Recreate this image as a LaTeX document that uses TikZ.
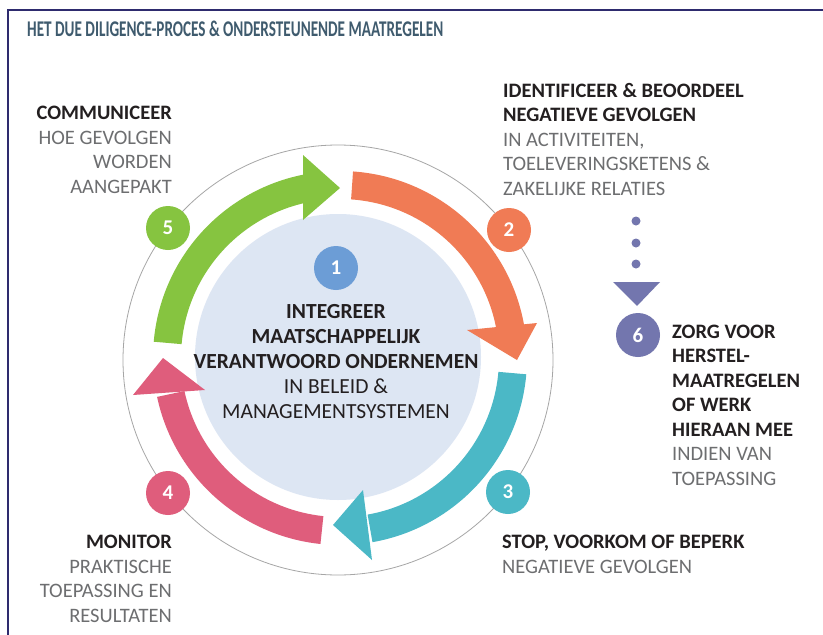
\documentclass[tikz,border=0pt]{standalone}
\usepackage{fontspec}
\usepackage{graphicx}
\setmainfont{Carlito}
\usetikzlibrary{calc}
\definecolor{navy}{HTML}{2E2B6E}
\definecolor{titlec}{HTML}{3F5B6E}
\definecolor{cgreen}{HTML}{86C440}
\definecolor{corange}{HTML}{F07B55}
\definecolor{cteal}{HTML}{4BB8C6}
\definecolor{cpink}{HTML}{DF5D7C}
\definecolor{cblue}{HTML}{6C9DD6}
\definecolor{cpurp}{HTML}{7376AE}
\definecolor{cdisc}{HTML}{DDE6F3}
\definecolor{darktext}{HTML}{231F20}
\definecolor{lighttext}{HTML}{6D6E70}
\newcommand{\hd}[1]{{\bfseries\color{darktext}#1}}
\begin{document}
\begin{tikzpicture}[x=1pt,y=1pt,
  badge/.style={circle,minimum size=44pt,inner sep=0pt,text=white,font=\fontsize{21}{21}\selectfont\bfseries},
  sidetext/.style={inner sep=0pt,text=lighttext,font=\fontsize{20.5}{24.5}\selectfont}]
\useasboundingbox (0,-635) rectangle (823,0);
\fill[white] (0,-635) rectangle (823,0);
\draw[navy,line width=2.5pt] (8,-635) -- (8,-10) -- (823,-10);

\node[anchor=base west,inner sep=0pt,text=titlec,font=\fontsize{22}{22}\selectfont\bfseries] (title) at (27,-36)
  {\resizebox{416pt}{15.5pt}{HET DUE DILIGENCE-PROCES \& ONDERSTEUNENDE MAATREGELEN}};

\coordinate (C) at (340,-358);
% outer thin circle and inner disc
\draw[black!35,line width=0.8pt] (338,-360) circle[radius=215pt];
\fill[cdisc] (338,-357) circle[radius=143pt];

% green arrow
\fill[cgreen] ($(C)+(175:187)$) arc[start angle=175,end angle=101,radius=187pt]
  -- ($(C)+(101:159)$) arc[start angle=101,end angle=175,radius=159pt] -- cycle;
\fill[cgreen] (303,-155) -- (340,-188) -- (303,-220) -- cycle;
% orange arrow
\fill[corange] ($(C)+(86:187)$) arc[start angle=86,end angle=10,radius=187pt]
  -- ($(C)+(10:159)$) arc[start angle=10,end angle=86,radius=159pt] -- cycle;
\fill[corange] (537,-323) -- (517,-360) -- (467,-330) -- cycle;
% teal arrow
\fill[cteal] ($(C)+(-5:187)$) arc[start angle=-5,end angle=-80,radius=187pt]
  -- ($(C)+(-80:159)$) arc[start angle=-80,end angle=-5,radius=159pt] -- cycle;
\fill[cteal] (372,-560) -- (333,-525) -- (363,-490) -- cycle;
% pink arrow
\fill[cpink] ($(C)+(-96:187)$) arc[start angle=-96,end angle=-168,radius=187pt]
  -- ($(C)+(-168:159)$) arc[start angle=-168,end angle=-96,radius=159pt] -- cycle;
\fill[cpink] (133,-395) -- (163,-358) -- (205,-390) -- cycle;

% badges
\node[badge,fill=cblue] (b1) at (336,-268) {1};
\node[badge,fill=corange] (b2) at (509,-230) {2};
\node[badge,fill=cteal] (b3) at (508,-492) {3};
\node[badge,fill=cpink] (b4) at (168,-493) {4};
\node[badge,fill=cgreen] (b5) at (168,-228) {5};
\node[badge,fill=cpurp] (b6) at (638,-335) {6};

% dotted connector to 6
\fill[cpurp] (636,-221) circle[radius=4.5pt];
\fill[cpurp] (636,-243) circle[radius=4.5pt];
\fill[cpurp] (636,-264) circle[radius=4.5pt];
\fill[cpurp] (613,-282) -- (660,-282) -- (637,-306) -- cycle;

% texts (anchored at the baseline of the last line)
\node[sidetext,anchor=base east,align=right] (t5) at (172,-193)
  {\hd{COMMUNICEER}\\HOE GEVOLGEN\\WORDEN\\AANGEPAKT};
\node[sidetext,anchor=base west,align=left] (t2) at (503,-195)
  {\hd{IDENTIFICEER \& BEOORDEEL}\\\hd{NEGATIEVE GEVOLGEN}\\IN ACTIVITEITEN,\\TOELEVERINGSKETENS \&\\ZAKELIJKE RELATIES};
\node[sidetext,anchor=base west,align=left] (t6) at (672,-485)
  {\hd{ZORG VOOR}\\\hd{HERSTEL-}\\\hd{MAATREGELEN}\\\hd{OF WERK}\\\hd{HIERAAN MEE}\\INDIEN VAN\\TOEPASSING};
\node[sidetext,anchor=base west,align=left] (t3) at (502,-573)
  {\hd{STOP, VOORKOM OF BEPERK}\\NEGATIEVE GEVOLGEN};
\node[sidetext,anchor=base east,align=right] (t4) at (172,-622)
  {\hd{MONITOR}\\PRAKTISCHE\\TOEPASSING EN\\RESULTATEN};
\node[inner sep=0pt,anchor=base,align=center,text=darktext,font=\fontsize{21.5}{25}\selectfont] (t1) at (336,-418)
  {\hd{INTEGREER}\\\hd{MAATSCHAPPELIJK}\\\hd{VERANTWOORD ONDERNEMEN}\\IN BELEID \&\\MANAGEMENTSYSTEMEN};
\end{tikzpicture}
\end{document}
